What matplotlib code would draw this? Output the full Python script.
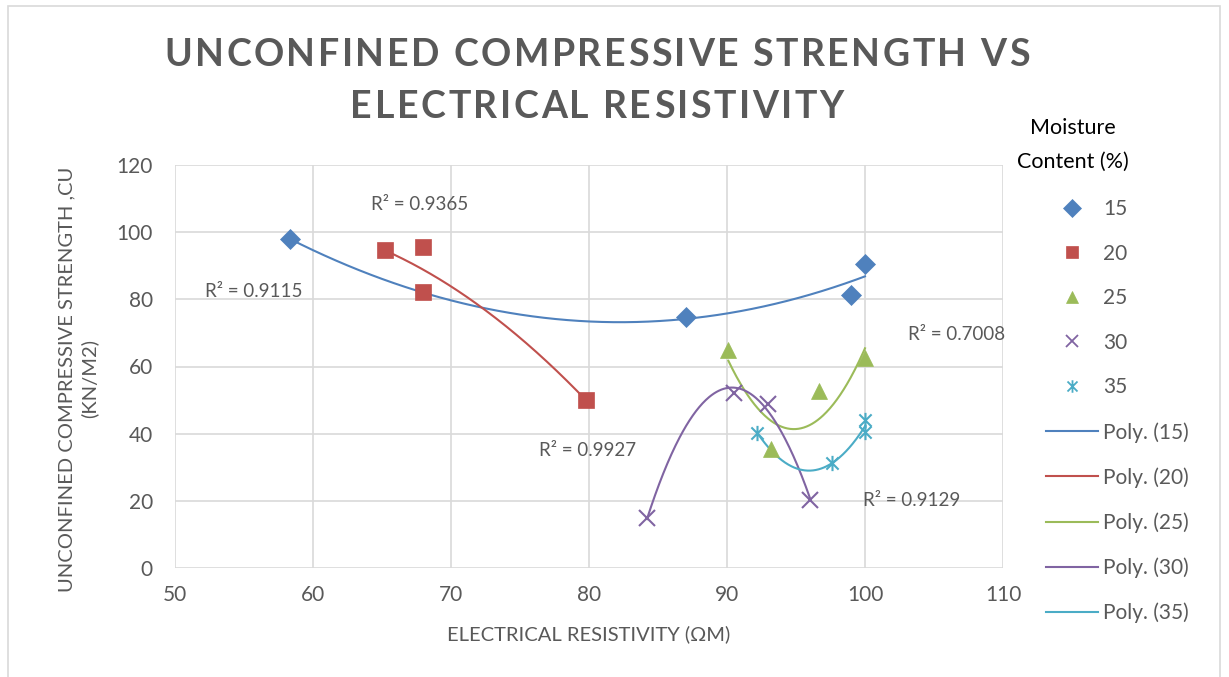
import numpy as np
import matplotlib
matplotlib.use("Agg")
import matplotlib.pyplot as plt
from matplotlib.path import Path
from matplotlib.lines import Line2D
from matplotlib.patches import Rectangle

plt.rcParams['font.family'] = ['Lato', 'DejaVu Sans']

# ---- data ----
series_names = ["15", "20", "25", "30", "35"]
x15 = [58.3, 87.0, 99.0, 100.0]
y15 = [98.0, 74.6, 81.4, 90.4]
x20 = [65.2, 68.0, 68.0, 79.8]
y20 = [94.6, 95.5, 82.1, 49.9]
x25 = [90.1, 93.2, 96.7, 100.0]
y25 = [64.8, 35.3, 52.7, 62.6]
x30 = [84.2, 90.5, 93.0, 96.0]
y30 = [14.8, 52.0, 48.8, 20.2]
x35 = [92.2, 97.6, 100.0, 100.0]
y35 = [40.2, 31.2, 44.0, 40.4]
r2_labels = ["R² = 0.9115", "R² = 0.9365", "R² = 0.7008", "R² = 0.9927", "R² = 0.9129"]
r2_pos = [(55.7, 82.4), (67.7, 108.3), (106.6, 69.6), (79.9, 35.1), (103.4, 20.2)]
xticks = [50, 60, 70, 80, 90, 100, 110]
yticks = [0, 20, 40, 60, 80, 100, 120]
title_lines = ["UNCONFINED COMPRESSIVE STRENGTH VS", "ELECTRICAL RESISTIVITY"]

colors = ["#4F81BD", "#C0504D", "#9BBB59", "#8064A2", "#4BACC6"]
xs = [x15, x20, x25, x30, x35]
ys = [y15, y20, y25, y30, y35]

star = Path([(-1, -1), (1, 1), (-1, 1), (1, -1), (0, -1.25), (0, 1.25)],
            [Path.MOVETO, Path.LINETO, Path.MOVETO, Path.LINETO, Path.MOVETO, Path.LINETO])
markers = ["D", "s", "^", "x", star]
msizes = [10, 11, 11, 11, 11]

W, H = 1229, 677
fig = plt.figure(figsize=(W / 100, H / 100), dpi=100)
ax = fig.add_axes([175 / W, 1 - 568 / H, (1003 - 175) / W, (568 - 165) / H])

grid_c = "#D9D9D9"
text_c = "#595959"

for i in range(5):
    x = np.array(xs[i]); y = np.array(ys[i])
    c = np.polyfit(x, y, 2)
    xx = np.linspace(x.min(), x.max(), 200)
    ax.plot(xx, np.polyval(c, xx), color=colors[i], lw=1.5, zorder=2)
for i in range(5):
    mfc = colors[i] if i < 3 else "none"
    ax.plot(xs[i], ys[i], linestyle="none", marker=markers[i], markersize=msizes[i],
            markerfacecolor=mfc, markeredgecolor=colors[i], markeredgewidth=1.5 if i >= 3 else 0.5,
            zorder=3)

for lab, (px, py) in zip(r2_labels, r2_pos):
    ax.text(px, py, lab, ha="center", va="center", fontsize=13.5, color=text_c)

ax.set_xlim(50, 110)
ax.set_ylim(0, 120)
ax.set_xticks(xticks)
ax.set_yticks(yticks)
ax.grid(True, color=grid_c, lw=1.2)
ax.set_axisbelow(True)
for s in ax.spines.values():
    s.set_visible(False)
ax.tick_params(length=0, labelsize=15, labelcolor=text_c)
ax.tick_params(axis="x", pad=12)
ax.tick_params(axis="y", pad=16)

ax.set_xlabel("ELECTRICAL RESISTIVITY (ΩM)", fontsize=14.5, color=text_c)
ax.xaxis.set_label_coords(0.5, -0.143)
ax.set_ylabel("UNCONFINED COMPRESSIVE STRENGTH ,CU\n(KN/M2)", fontsize=14.5, color=text_c,
              linespacing=1.3)
ax.yaxis.set_label_coords(-0.093, 0.469)

# title with letter spacing
renderer = fig.canvas.get_renderer()
tprops = dict(fontsize=27, fontweight="bold", color=text_c)


def twidth(s):
    t = fig.text(0, 0, s, **tprops)
    w = t.get_window_extent(renderer).width
    t.remove()
    return w


target_w = 865.0
W1 = twidth(title_lines[0])
track = (target_w - W1) / (len(title_lines[0]) - 1)
for line, base in zip(title_lines, [65.5, 117.5]):
    n = len(line)
    tot = twidth(line) + (n - 1) * track
    left = 597 - tot / 2
    for k, ch in enumerate(line):
        if ch == " ":
            continue
        xk = left + twidth(line[:k + 1]) - twidth(ch) + k * track
        fig.text(xk / W, 1 - base / H, ch, ha="left", va="baseline", **tprops)

# legend
handles = []
for i in range(5):
    mfc = colors[i] if i < 3 else "none"
    handles.append(Line2D([], [], linestyle="none", marker=markers[i], markersize=9,
                          markerfacecolor=mfc, markeredgecolor=colors[i],
                          markeredgewidth=1.3 if i >= 3 else 0.5))
for i in range(5):
    handles.append(Line2D([], [], color=colors[i], lw=1.5))
labels = series_names + ["Poly. (%s)" % s for s in series_names]
leg = fig.legend(handles, labels, loc="upper left", bbox_to_anchor=(1046 / W, 1 - 199 / H),
                 frameon=False, fontsize=15, labelspacing=1.18, handlelength=2.5,
                 handletextpad=0.25, borderpad=0, borderaxespad=0)
for t in leg.get_texts():
    t.set_color(text_c)
fig.text(1073 / W, 1 - 128 / H, "Moisture", ha="center", va="center", fontsize=15.5, color="black")
fig.text(1073 / W, 1 - 162 / H, "Content (%)", ha="center", va="center", fontsize=15.5, color="black")

fig.add_artist(Rectangle((8 / W, -0.1), (1220 - 8) / W, 1.1 - 6 / H, transform=fig.transFigure,
                         fill=False, edgecolor=grid_c, lw=1.2))

fig.savefig("out.png", dpi=100)
